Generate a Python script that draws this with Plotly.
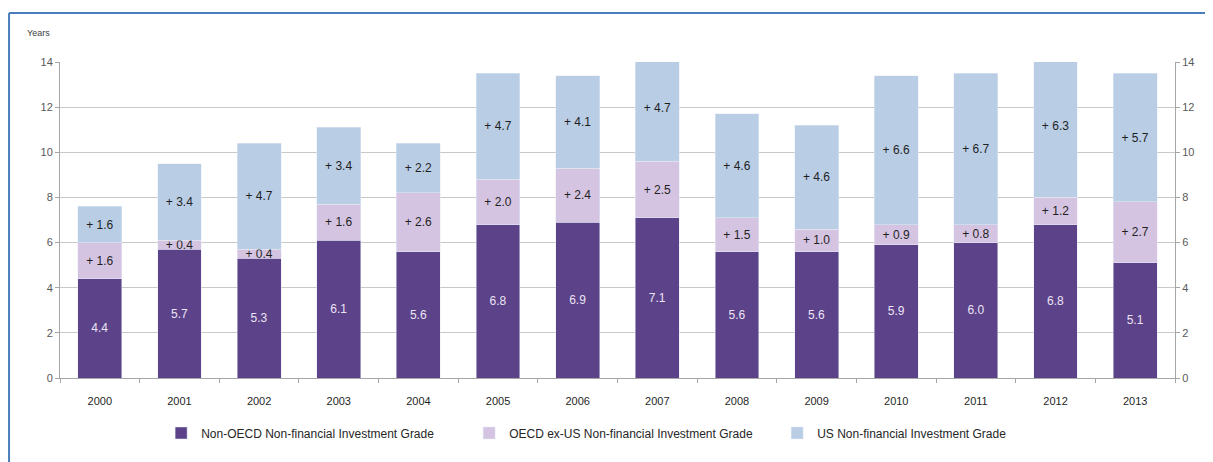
import plotly.graph_objects as go

years = ['2000', '2001', '2002', '2003', '2004', '2005', '2006',
         '2007', '2008', '2009', '2010', '2011', '2012', '2013']
non_oecd = [4.4, 5.7, 5.3, 6.1, 5.6, 6.8, 6.9, 7.1, 5.6, 5.6, 5.9, 6.0, 6.8, 5.1]
oecd_ex_us = [1.6, 0.4, 0.4, 1.6, 2.6, 2.0, 2.4, 2.5, 1.5, 1.0, 0.9, 0.8, 1.2, 2.7]
us = [1.6, 3.4, 4.7, 3.4, 2.2, 4.7, 4.1, 4.7, 4.6, 4.6, 6.6, 6.7, 6.3, 5.7]

names = ['Non-OECD Non-financial Investment Grade',
         'OECD ex-US Non-financial Investment Grade',
         'US Non-financial Investment Grade']
colors = ['#5B4289', '#D5C4E1', '#B9CDE5']

FONT = 'Liberation Sans, Arial, sans-serif'

fig = go.Figure()

# dark purple base segment, white-ish labels
fig.add_trace(go.Bar(
    x=years, y=non_oecd, name=names[0], marker_color=colors[0],
    text=[f'{v:.1f}' for v in non_oecd], textposition='inside',
    insidetextanchor='middle', constraintext='none',
    textfont=dict(color='#EDE4F5', size=12, family=FONT)))

fig.add_trace(go.Bar(
    x=years, y=oecd_ex_us, name=names[1], marker_color=colors[1],
    text=[f'+ {v:.1f}' for v in oecd_ex_us], textposition='inside',
    insidetextanchor='middle', constraintext='none',
    textfont=dict(color='#1F1F1F', size=12, family=FONT)))

fig.add_trace(go.Bar(
    x=years, y=us, name=names[2], marker_color=colors[2],
    text=[f'+ {v:.1f}' for v in us], textposition='inside',
    insidetextanchor='middle', constraintext='none',
    textfont=dict(color='#1F1F1F', size=12, family=FONT)))

# invisible trace so the right-hand axis gets drawn
totals = [a + b + c for a, b, c in zip(non_oecd, oecd_ex_us, us)]
fig.add_trace(go.Scatter(x=years, y=totals, yaxis='y2', mode='markers',
                         marker=dict(opacity=0), showlegend=False,
                         hoverinfo='skip'))

axis_font = dict(family=FONT, size=11, color='#595959')

fig.update_layout(
    barmode='stack',
    bargap=0.45,
    width=1205, height=454,
    margin=dict(l=52, r=38, t=54, b=84),
    plot_bgcolor='white', paper_bgcolor='white',
    font=dict(family=FONT),
    xaxis=dict(range=[-0.5, len(years) - 0.5], showgrid=False,
               showline=True, linecolor='#A6A6A6',
               ticks='outside', tickson='boundaries', ticklen=4,
               tickcolor='#A6A6A6', ticklabelstandoff=13,
               tickfont=dict(family=FONT, size=11, color='#1F1F1F')),
    yaxis=dict(range=[0, 14], dtick=2, showgrid=True, gridcolor='#C8C8C8',
               showline=True, linecolor='#A6A6A6', ticks='outside',
               ticklen=4, tickcolor='#A6A6A6', tickfont=axis_font,
               zeroline=False),
    yaxis2=dict(range=[0, 14], dtick=2, overlaying='y', side='right',
                showgrid=False, showline=True, linecolor='#A6A6A6',
                ticks='outside', ticklen=4, tickcolor='#A6A6A6',
                tickfont=axis_font, zeroline=False),
    legend=dict(orientation='h', x=0.0907, xanchor='left', y=-0.174,
                yanchor='middle', entrywidth=263, entrywidthmode='pixels',
                font=dict(family=FONT, size=12, color='#262626'),
                itemwidth=30, traceorder='normal'),
    showlegend=True,
)

fig.add_annotation(text='Years', xref='paper', yref='paper', x=-0.0197,
                   y=1.092, xanchor='center', yanchor='middle',
                   showarrow=False, font=dict(family=FONT, size=9,
                                              color='#404040'))

# blue frame around the chart image (left and top edges)
fig.add_shape(type='line', xref='paper', yref='paper', x0=-0.0457, x1=-0.0457,
              y0=1.155, y1=-0.27, line=dict(color='#4A7EBB', width=2))
fig.add_shape(type='line', xref='paper', yref='paper', x0=-0.0457, x1=1.034,
              y0=1.155, y1=1.155, line=dict(color='#4A7EBB', width=2))

fig.write_html("out.html")
